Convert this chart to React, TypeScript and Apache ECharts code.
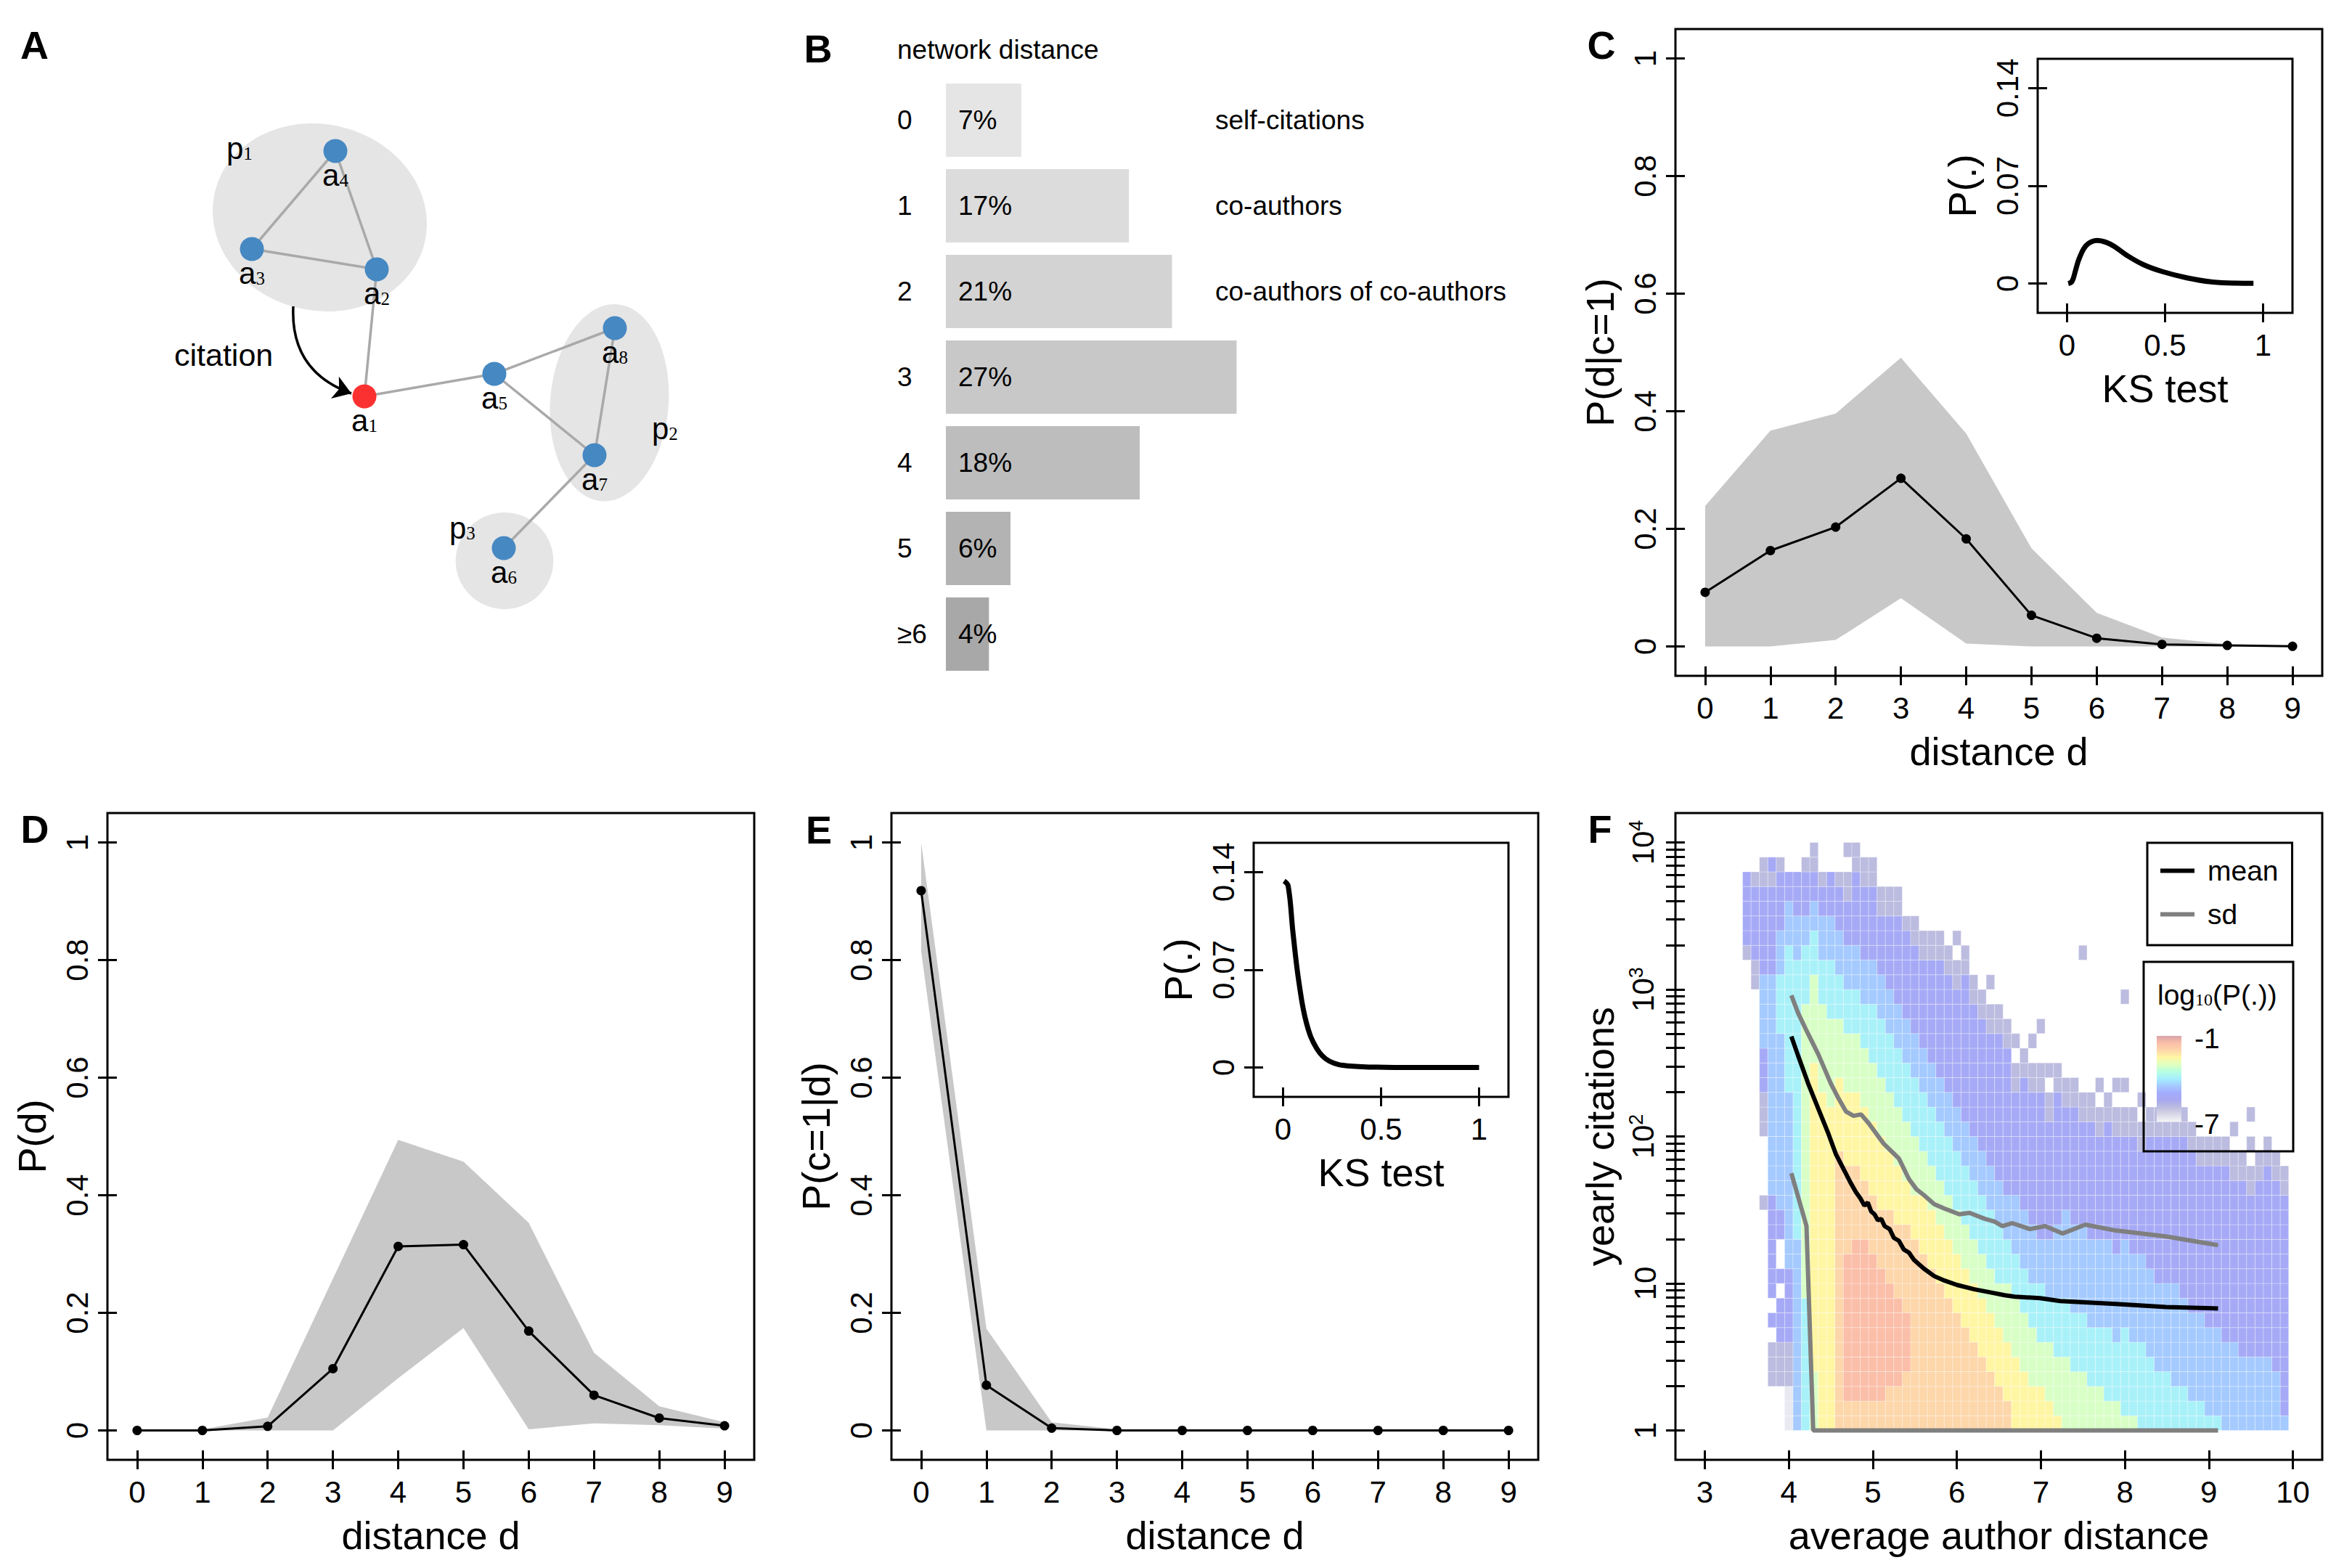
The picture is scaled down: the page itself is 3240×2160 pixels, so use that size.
import React, { useEffect, useRef } from "react";
import * as echarts from "echarts";

const FONT = '"Liberation Sans", Arial, Helvetica, sans-serif';
const SERIF = '"Liberation Serif", "Times New Roman", serif';

// ---------------- Panel A : co-authorship network ----------------
const nodeNames = ["a1", "a2", "a3", "a4", "a5", "a6", "a7", "a8"];
const nodeX = [502, 519, 347, 462, 681, 694, 819, 847];
const nodeY = [546, 371, 343, 208, 515, 755, 627, 452];
const nodeColors = ["#fb3131", "#4688c2", "#4688c2", "#4688c2", "#4688c2", "#4688c2", "#4688c2", "#4688c2"];
const linkSource = ["a4", "a4", "a3", "a2", "a1", "a5", "a5", "a8", "a7"];
const linkTarget = ["a3", "a2", "a2", "a1", "a5", "a8", "a7", "a7", "a6"];
const paperNames = ["1", "2", "3"];
const paperCX = [440.5, 839.4, 695];
const paperCY = [299.5, 554.8, 772.6];
const paperRX = [148.6, 81.5, 67.3];
const paperRY = [128.2, 136, 66.6];
const paperRot = [-0.244, -0.08, 0];
const paperLabelX = [312, 898, 619];
const paperLabelY = [204, 590, 727];
const citationFrom = [404, 422];
const citationTo = [484, 542];

// ---------------- Panel B : network distance of citations ----------------
const distCats = ["0", "1", "2", "3", "4", "5", "\u22656"];
const distPct = [7, 17, 21, 27, 18, 6, 4];
const distNotes = ["self-citations", "co-authors", "co-authors of co-authors", "", "", "", ""];
const distColors = ["#e5e5e5", "#dcdcdc", "#d3d3d3", "#c8c8c8", "#bdbdbd", "#b3b3b3", "#a8a8a8"];

// ---------------- Panels C, D, E ----------------
const dist = [0, 1, 2, 3, 4, 5, 6, 7, 8, 9];
const distTickLabels = ["0", "1", "2", "3", "4", "5", "6", "7", "8", "9"];
const probTicks = [0, 0.2, 0.4, 0.6, 0.8, 1];
const probTickLabels = ["0", "0.2", "0.4", "0.6", "0.8", "1"];

const cMean = [0.092, 0.163, 0.203, 0.286, 0.183, 0.053, 0.014, 0.0034, 0.0017, 0.0003];
const cUpper = [0.239, 0.367, 0.396, 0.491, 0.362, 0.167, 0.057, 0.015, 0.004, 0.0];
const cLower = [0, 0, 0.011, 0.082, 0.005, 0, 0, 0, 0, 0];

const dMean = [0, 0, 0.007, 0.105, 0.313, 0.316, 0.169, 0.06, 0.021, 0.008];
const dUpper = [0, 0.002, 0.022, 0.258, 0.494, 0.457, 0.353, 0.132, 0.041, 0.014];
const dLower = [0, 0, 0, 0, 0.089, 0.174, 0.002, 0.012, 0.009, 0.003];

const eMean = [0.918, 0.077, 0.004, 0, 0, 0, 0, 0, 0, 0];
const eUpper = [1.0, 0.173, 0.014, 0.002, 0, 0, 0, 0, 0, 0];
const eLower = [0.815, 0, 0, 0, 0, 0, 0, 0, 0, 0];

// insets (KS test distributions)
const ksTicks = [0, 0.5, 1];
const ksTickLabels = ["0", "0.5", "1"];
const pTicks = [0, 0.07, 0.14];
const pTickLabels = ["0", "0.07", "0.14"];
const ksCX = [0.006, 0.025, 0.043, 0.062, 0.099, 0.154, 0.2, 0.241, 0.302, 0.389, 0.488, 0.611, 0.735, 0.858, 0.951];
const ksCY = [0.0, 0.0015, 0.0093, 0.018, 0.0275, 0.0309, 0.0295, 0.0266, 0.0205, 0.0136, 0.0085, 0.0041, 0.0012, 0.0003, 0.0002];
const ksEX = [0.005, 0.026, 0.051, 0.082, 0.12, 0.172, 0.236, 0.339, 0.518, 0.75, 1.0];
const ksEY = [0.1336, 0.13, 0.096, 0.06, 0.0315, 0.0136, 0.0046, 0.0011, 0.0002, 0.0, 0.0];

// ---------------- Panel F ----------------
const fXTicks = [3, 4, 5, 6, 7, 8, 9, 10];
const fXTickLabels = ["3", "4", "5", "6", "7", "8", "9", "10"];
const fYMajor = [1, 10, 100, 1000, 10000];
const fYMajorLabels = ["1", "10", "10{s|2}", "10{s|3}", "10{s|4}"];
const fYMinor = [1, 2, 3, 4, 5, 6, 7, 8, 9, 10, 20, 30, 40, 50, 60, 70, 80, 90, 100, 200, 300, 400, 500, 600, 700, 800, 900,
  1000, 2000, 3000, 4000, 5000, 6000, 7000, 8000, 9000, 10000];

const meanX = [4.03, 4.11, 4.23, 4.35, 4.47, 4.56, 4.65, 4.74, 4.8, 4.85, 4.9, 4.94, 4.98, 5.02, 5.06, 5.1, 5.14, 5.2, 5.25, 5.31,
  5.37, 5.43, 5.49, 5.55, 5.61, 5.73, 5.85, 6.0, 6.21, 6.39, 6.57, 6.69, 6.99, 7.23, 7.89, 8.49, 9.11];
const meanLog10 = [2.68, 2.55, 2.36, 2.19, 2.02, 1.88, 1.78, 1.68, 1.62, 1.58, 1.53, 1.55, 1.49, 1.47, 1.43, 1.44, 1.39, 1.37, 1.31, 1.29,
  1.23, 1.21, 1.16, 1.13, 1.1, 1.05, 1.02, 0.99, 0.96, 0.94, 0.92, 0.91, 0.9, 0.88, 0.86, 0.84, 0.83];
const sdUpX = [4.03, 4.11, 4.21, 4.35, 4.5, 4.59, 4.68, 4.77, 4.86, 4.95, 5.04, 5.13, 5.22, 5.31, 5.43, 5.52, 5.61, 5.73, 5.85, 6.03,
  6.15, 6.33, 6.45, 6.54, 6.66, 6.87, 7.05, 7.26, 7.53, 7.89, 8.49, 9.11];
const sdUpLog10 = [2.96, 2.84, 2.72, 2.56, 2.36, 2.26, 2.17, 2.14, 2.15, 2.09, 2.02, 1.95, 1.9, 1.85, 1.71, 1.64, 1.6, 1.54, 1.51, 1.47,
  1.48, 1.44, 1.42, 1.39, 1.41, 1.37, 1.39, 1.34, 1.4, 1.36, 1.32, 1.26];
const sdLowX = [4.03, 4.21, 4.29, 9.11];
const sdLowLog10 = [1.75, 1.39, 0, 0];

// 2D histogram: one run-length string per x bin (bins of 0.1 from 3.45), rows of 0.1 decade from log10(y)=0 upwards.
// level digit -> log10(P)
const levelLogP: Record<string, number> = { "1": -6.8, "2": -6.0, "3": -5.3, "4": -4.5, "5": -3.9, "6": -3.1, "7": -2.5, "8": -2.0, "9": -1.5 };
const heatColumnsRLE = [
  "32*. 1*2 5*3 2*.",
  "30*. 2*2 5*3 1*2 2*.",
  "15*. 1*2 4*. 3*2 3*3 5*4 6*3 2*2 1*.",
  "3*. 3*2 1*. 1*3 1*. 7*3 15*4 6*3 1*2 1*3 1*.",
  "3*. 3*2 3*3 1*. 1*3 2*. 2*3 12*4 4*5 3*4 4*3 1*2 1*.",
  "3*1 3*2 5*3 12*4 10*5 3*4 2*3 2*.",
  "13*4 19*5 3*4 3*3 2*.",
  "9*5 20*6 4*5 2*4 3*3 1*2 1*.",
  "4*6 21*7 6*6 3*5 2*4 2*3 1*2 1*2",
  "23*7 6*6 3*5 3*4 2*3 1*2 2*.",
  "22*7 6*6 4*5 3*4 3*3 2*.",
  "19*8 5*7 4*6 3*5 3*4 3*3 1*2 2*.",
  "2*8 10*9 6*8 5*7 4*6 3*5 3*4 3*3 2*2 1*. 1*2",
  "2*8 11*9 5*8 5*7 4*6 3*5 3*4 5*3 2*2",
  "2*8 11*9 4*8 5*7 4*6 3*5 3*4 5*3 2*2 1*.",
  "2*8 10*9 4*8 5*7 4*6 4*5 3*4 5*3 2*2 1*.",
  "2*8 9*9 4*8 5*7 4*6 4*5 3*4 4*3 2*2 3*.",
  "3*8 7*9 5*8 4*7 4*6 4*5 3*4 5*3 2*2 3*.",
  "3*8 6*9 5*8 4*7 4*6 4*5 3*4 6*3 2*2 3*.",
  "4*8 4*9 6*8 3*7 4*6 4*5 3*4 6*3 1*2 5*.",
  "13*8 3*7 4*6 4*5 3*4 6*3 2*2 5*.",
  "12*8 4*7 3*6 4*5 3*4 6*3 2*2 6*.",
  "11*8 4*7 3*6 4*5 3*4 7*3 2*2 6*.",
  "10*8 4*7 3*6 4*5 3*4 8*3 2*2 6*.",
  "9*8 4*7 3*6 4*5 3*4 8*3 2*2 7*.",
  "8*8 4*7 3*6 4*5 3*4 8*3 2*2 1*. 1*2 6*.",
  "7*8 4*7 3*6 4*5 3*4 10*3 2*2 7*.",
  "6*8 4*7 3*6 4*5 3*4 9*3 2*2 9*.",
  "5*8 4*7 3*6 4*5 3*4 9*3 2*2 10*.",
  "4*8 4*7 3*6 4*5 3*4 9*3 2*2 1*. 1*2 9*.",
  "3*8 4*7 3*6 4*5 3*4 10*3 2*2 11*.",
  "2*8 4*7 4*6 3*5 3*4 10*3 2*2 12*.",
  "5*7 4*6 3*5 4*4 7*3 2*2 1*. 1*2 13*.",
  "4*7 4*6 3*5 4*4 9*3 2*2 14*.",
  "3*7 4*6 3*5 4*4 9*3 2*2 1*. 1*2 13*.",
  "3*7 3*6 4*5 3*4 10*3 2*2 2*. 1*2 12*.",
  "2*7 4*6 3*5 4*4 8*3 2*2 1*. 1*2 15*.",
  "1*7 4*6 4*5 5*4 9*3 2*2 15*.",
  "5*6 4*5 6*4 7*3 2*2 16*.",
  "4*6 4*5 6*4 8*3 2*2 16*.",
  "4*6 4*5 6*4 7*3 2*2 9*. 1*2 7*.",
  "3*6 4*5 6*4 8*3 2*2 17*.",
  "3*6 4*5 6*4 7*3 2*2 1*. 1*2 16*.",
  "2*6 5*5 6*4 8*3 2*2 17*.",
  "2*6 4*5 6*4 8*3 2*2 1*. 1*2 16*.",
  "1*6 6*5 6*4 7*3 2*2 1*. 1*2 5*. 1*2 10*.",
  "1*6 5*5 6*4 8*3 2*2 18*.",
  "6*5 6*4 7*3 2*2 1*. 1*2 17*.",
  "5*5 6*4 9*3 2*2 18*.",
  "4*5 6*4 10*3 2*2 18*.",
  "4*5 6*4 10*3 2*2 1*. 1*2 16*.",
  "3*5 7*4 10*3 2*2 18*.",
  "3*5 6*4 11*3 2*2 18*.",
  "2*5 6*4 11*3 2*2 19*.",
  "2*5 6*4 10*3 2*2 20*.",
  "1*5 6*4 11*3 2*2 20*.",
  "1*5 6*4 11*3 2*2 20*.",
  "6*4 12*3 2*2 20*.",
  "6*4 11*3 2*2 1*. 1*2 19*.",
  "5*4 12*3 2*2 21*.",
  "5*4 11*3 2*2 1*. 1*2 1*. 1*2 18*.",
  "5*4 12*3 2*2 21*.",
  "5*4 13*3 2*2 20*.",
  "4*4 13*3 2*2 21*.",
  "1*4 15*3 2*2 22*.",
];
const heatFirstX = 3.5;
const heatBinX = 0.1;
const heatBinY = 0.1;
// colour scale for log10(P(.)) from -7 to -1
const heatPalette = ["#f4f4f8", "#d8d8e8", "#bcbce0", "#a8a8f0", "#a4acff", "#a4caff", "#a6eeff", "#b6ffe0", "#e0ffc0", "#fff6a4", "#fdd6aa", "#fbbea8", "#d8a4a8"];

// ---------------- Panel letters ----------------
const panelLetters = ["A", "B", "C", "D", "E", "F"];
const letterX = [47.5, 1127, 2206, 48, 1128, 2204];
const letterY = [61.5, 66.6, 62, 1142, 1143, 1142];

function decodeRLE(s: string): string {
  let out = "";
  for (const tok of s.trim().split(/\s+/)) {
    const [n, c] = tok.split("*");
    out += c.repeat(Number(n));
  }
  return out;
}

function fmt(ticks: number[], labels: string[]) {
  return (v: number) => {
    const k = ticks.findIndex((t) => Math.abs(t - v) < 1e-9);
    return k >= 0 ? labels[k] : "";
  };
}

const TICK = { color: "#000", width: 3 };

function rAxisX(gridIndex: number, min: number, max: number, ticks: number[], labels: string[], name: string) {
  return {
    type: "value", gridIndex, min, max, position: "bottom", offset: -13,
    axisLine: { show: false, onZero: false },
    axisTick: { show: true, inside: false, length: 26, lineStyle: TICK, customValues: ticks },
    axisLabel: { show: true, customValues: ticks, formatter: fmt(ticks, labels), margin: 36, fontSize: 42, color: "#000", fontFamily: FONT },
    splitLine: { show: false },
    name, nameLocation: "middle", nameGap: 90, nameMoveOverlap: false,
    nameTextStyle: { fontSize: 54, color: "#000", fontFamily: FONT },
  };
}

function rAxisY(gridIndex: number, min: number, max: number, ticks: number[], labels: string[], name: string, tickValues?: number[], rich?: any) {
  return {
    type: "value", gridIndex, min, max, position: "left", offset: -13,
    axisLine: { show: false, onZero: false },
    axisTick: { show: true, inside: false, length: 26, lineStyle: TICK, customValues: tickValues || ticks },
    axisLabel: { show: true, customValues: ticks, formatter: fmt(ticks, labels), rotate: 90, margin: 34, fontSize: 42, color: "#000", fontFamily: FONT, rich },
    splitLine: { show: false },
    name, nameLocation: "middle", nameGap: 90, nameRotate: 90, nameMoveOverlap: false,
    nameTextStyle: { fontSize: 54, color: "#000", fontFamily: FONT },
  };
}

function frame(left: number, top: number, width: number, height: number) {
  return { left, top, width, height, show: true, borderColor: "#000", borderWidth: 3, backgroundColor: "transparent", containLabel: false, outerBoundsMode: "none" };
}

function bandSeries(xi: number, yi: number, upper: number[], lower: number[]) {
  return {
    type: "custom", coordinateSystem: "cartesian2d", xAxisIndex: xi, yAxisIndex: yi, z: 1, silent: true,
    data: [[dist[0], lower[0]]],
    renderItem: (params: any, api: any) => {
      const pts: number[][] = [];
      dist.forEach((d, i) => pts.push(api.coord([d, upper[i]])));
      for (let i = dist.length - 1; i >= 0; i--) pts.push(api.coord([dist[i], lower[i]]));
      return { type: "polygon", shape: { points: pts }, style: { fill: "#c8c8c8" } };
    },
  };
}

function meanSeries(xi: number, yi: number, mean: number[]) {
  return {
    type: "line", xAxisIndex: xi, yAxisIndex: yi, z: 3, silent: true,
    data: dist.map((d, i) => [d, mean[i]]), symbol: "circle", symbolSize: 13, showSymbol: true,
    itemStyle: { color: "#000" }, lineStyle: { color: "#000", width: 3 },
  };
}

function insetSeries(xi: number, yi: number, xs: number[], ys: number[]) {
  return {
    type: "line", xAxisIndex: xi, yAxisIndex: yi, z: 3, silent: true, smooth: 0.4,
    data: xs.map((x, i) => [x, ys[i]]), symbol: "none", lineStyle: { color: "#000", width: 7 },
  };
}

function buildOption() {
  const heatData: number[][] = [];
  heatColumnsRLE.forEach((s, i) => {
    const col = decodeRLE(s);
    for (let j = 0; j < col.length; j++) {
      const c = col[j];
      if (c !== "." && levelLogP[c] !== undefined) {
        heatData.push([heatFirstX + heatBinX * i, heatBinY * j, levelLogP[c]]);
      }
    }
  });

  const series: any[] = [];
  // Panel A
  series.push({
    type: "custom", coordinateSystem: "cartesian2d", xAxisIndex: 0, yAxisIndex: 0, z: 1, silent: true,
    data: paperCX.map((cx, i) => [cx, paperCY[i], paperRX[i], paperRY[i], paperRot[i]]),
    renderItem: (params: any, api: any) => {
      const c = api.coord([api.value(0), api.value(1)]);
      const s = api.size([api.value(2), api.value(3)]);
      return { type: "ellipse", x: c[0], y: c[1], rotation: api.value(4), shape: { cx: 0, cy: 0, rx: s[0], ry: s[1] }, style: { fill: "#e5e5e5" } };
    },
  });
  series.push({
    type: "graph", coordinateSystem: "cartesian2d", xAxisIndex: 0, yAxisIndex: 0, layout: "none", z: 2, silent: true,
    symbol: "circle", symbolSize: 33,
    data: nodeNames.map((n, i) => ({ name: n, value: [nodeX[i], nodeY[i]], itemStyle: { color: nodeColors[i] } })),
    links: linkSource.map((s, i) => ({ source: s, target: linkTarget[i] })),
    lineStyle: { color: "#a9a9a9", width: 3.5, opacity: 1, curveness: 0 },
    label: {
      show: true, position: "bottom", distance: -4,
      formatter: (p: any) => `{a|a}{s|${p.name.slice(1)}}`,
      rich: {
        a: { fontSize: 42, fontFamily: FONT, color: "#000" },
        s: { fontSize: 25, fontFamily: SERIF, color: "#000", padding: [14, 0, 0, 0] },
      },
    },
  });
  series.push({
    type: "lines", coordinateSystem: "cartesian2d", xAxisIndex: 0, yAxisIndex: 0, z: 3, silent: true,
    symbol: ["none", "arrow"], symbolSize: 24,
    lineStyle: { color: "#000", width: 3.5, opacity: 1, curveness: -0.37 },
    data: [{ coords: [citationFrom, citationTo] }],
  });
  // Panel B
  series.push({
    type: "bar", xAxisIndex: 1, yAxisIndex: 1, barWidth: 101, silent: true,
    data: distPct.map((v, i) => ({ value: v, itemStyle: { color: distColors[i] } })),
    label: { show: true, position: "insideLeft", distance: 17, formatter: "{c}%", fontSize: 37, color: "#000", fontFamily: FONT },
  });
  // Panel C
  series.push(bandSeries(2, 3, cUpper, cLower));
  series.push(meanSeries(2, 3, cMean));
  series.push(insetSeries(3, 4, ksCX, ksCY));
  // Panel D
  series.push(bandSeries(4, 5, dUpper, dLower));
  series.push(meanSeries(4, 5, dMean));
  // Panel E
  series.push(bandSeries(5, 6, eUpper, eLower));
  series.push(meanSeries(5, 6, eMean));
  series.push(insetSeries(6, 7, ksEX, ksEY));
  // Panel F
  const heatIndex = series.length;
  series.push({
    type: "custom", coordinateSystem: "cartesian2d", xAxisIndex: 7, yAxisIndex: 8, z: 1, silent: true,
    encode: { x: 0, y: 1 },
    data: heatData,
    renderItem: (params: any, api: any) => {
      const x = api.value(0);
      const y = api.value(1);
      const tl = api.coord([x - heatBinX / 2, y + heatBinY]);
      const br = api.coord([x + heatBinX / 2, y]);
      return {
        type: "rect",
        shape: { x: tl[0], y: tl[1], width: br[0] - tl[0], height: br[1] - tl[1] },
        style: { fill: api.visual("color"), stroke: "rgba(255,255,255,0.3)", lineWidth: 1 },
      };
    },
  });
  series.push({
    name: "mean", type: "line", xAxisIndex: 7, yAxisIndex: 8, z: 5, silent: true,
    data: meanX.map((x, i) => [x, meanLog10[i]]), symbol: "none",
    itemStyle: { color: "#000" }, lineStyle: { color: "#000", width: 6 },
  });
  series.push({
    name: "sd", type: "line", xAxisIndex: 7, yAxisIndex: 8, z: 4, silent: true,
    data: sdUpX.map((x, i) => [x, sdUpLog10[i]]), symbol: "none",
    itemStyle: { color: "#7f7f7f" }, lineStyle: { color: "#7f7f7f", width: 6 },
  });
  series.push({
    name: "sd", type: "line", xAxisIndex: 7, yAxisIndex: 8, z: 4, silent: true,
    data: sdLowX.map((x, i) => [x, sdLowLog10[i]]), symbol: "none",
    itemStyle: { color: "#7f7f7f" }, lineStyle: { color: "#7f7f7f", width: 6 },
  });

  const grid = [
    { left: 0, top: 0, width: 1080, height: 1080, show: false, containLabel: false, outerBoundsMode: "none" },
    { left: 1303, top: 106.4, width: 445, height: 826, show: false, containLabel: false, outerBoundsMode: "none" },
    frame(2308, 40, 891, 891),
    frame(2807, 81, 351, 350),
    frame(148, 1120, 891, 891),
    frame(1228, 1120, 891, 891),
    frame(1727, 1161, 351, 350),
    frame(2308, 1120, 891, 891),
  ];

  const xAxis = [
    { type: "value", gridIndex: 0, min: 0, max: 1080, show: false },
    { type: "value", gridIndex: 1, min: 0, max: 30, show: false },
    rAxisX(2, -0.455, 9.455, dist, distTickLabels, "distance d"),
    rAxisX(3, -0.15, 1.15, ksTicks, ksTickLabels, "KS test"),
    rAxisX(4, -0.455, 9.455, dist, distTickLabels, "distance d"),
    rAxisX(5, -0.455, 9.455, dist, distTickLabels, "distance d"),
    rAxisX(6, -0.15, 1.15, ksTicks, ksTickLabels, "KS test"),
    rAxisX(7, 2.65, 10.35, fXTicks, fXTickLabels, "average author distance"),
  ];

  const supRich = { s: { fontSize: 27, fontFamily: FONT, color: "#000", padding: [0, 0, 20, 0] } };
  const yAxis = [
    { type: "value", gridIndex: 0, min: 0, max: 1080, inverse: true, show: false },
    {
      type: "category", gridIndex: 1, data: distCats, inverse: true, position: "left",
      axisLine: { show: false }, axisTick: { show: false }, splitLine: { show: false },
      axisLabel: { align: "left", margin: 67, fontSize: 37, color: "#000", fontFamily: FONT },
    },
    {
      type: "category", gridIndex: 1, data: distNotes, inverse: true, position: "right", offset: -74,
      axisLine: { show: false }, axisTick: { show: false }, splitLine: { show: false },
      axisLabel: { align: "left", margin: 0, fontSize: 37, color: "#000", fontFamily: FONT },
    },
    rAxisY(2, -0.05, 1.05, probTicks, probTickLabels, "P(d|c=1)"),
    rAxisY(3, -0.021, 0.161, pTicks, pTickLabels, "P(.)"),
    rAxisY(4, -0.05, 1.05, probTicks, probTickLabels, "P(d)"),
    rAxisY(5, -0.05, 1.05, probTicks, probTickLabels, "P(c=1|d)"),
    rAxisY(6, -0.021, 0.161, pTicks, pTickLabels, "P(.)"),
    rAxisY(7, -0.2, 4.2, fYMajor.map((v) => Math.log10(v)), fYMajorLabels, "yearly citations", fYMinor.map((v) => Math.log10(v)), supRich),
  ];

  const colorStops = heatPalette.map((c, k) => ({ offset: 1 - k / (heatPalette.length - 1), color: c }));
  colorStops.reverse();

  const graphics: any[] = [];
  panelLetters.forEach((t, i) => {
    graphics.push({
      type: "text", x: letterX[i], y: letterY[i], silent: true, z: 100,
      style: { text: t, fontSize: 54, fontWeight: "bold", fontFamily: FONT, fill: "#000", textAlign: "center", textVerticalAlign: "middle", align: "center", verticalAlign: "middle" },
    });
  });
  graphics.push({
    type: "text", x: 1236, y: 68, silent: true, z: 100,
    style: { text: "network distance", fontSize: 37, fontFamily: FONT, fill: "#000", textAlign: "left", textVerticalAlign: "middle", align: "left", verticalAlign: "middle" },
  });
  graphics.push({
    type: "text", x: 240, y: 489, silent: true, z: 100,
    style: { text: "citation", fontSize: 43, fontFamily: FONT, fill: "#000", textAlign: "left", textVerticalAlign: "middle", align: "left", verticalAlign: "middle" },
  });
  paperNames.forEach((n, i) => {
    graphics.push({
      type: "text", x: paperLabelX[i], y: paperLabelY[i], silent: true, z: 100,
      style: {
        text: `{p|p}{s|${n}}`, textAlign: "left", textVerticalAlign: "middle", align: "left", verticalAlign: "middle",
        rich: {
          p: { fontSize: 42, fontFamily: FONT, fill: "#000", color: "#000" },
          s: { fontSize: 25, fontFamily: SERIF, fill: "#000", color: "#000", padding: [14, 0, 0, 0] },
        },
      },
    });
  });
  // colour key of panel F
  graphics.push({
    type: "rect", silent: true, z: 100, shape: { x: 2953, y: 1325, width: 206, height: 261 },
    style: { fill: "none", stroke: "#000", lineWidth: 3 },
  });
  graphics.push({
    type: "rect", silent: true, z: 100, shape: { x: 2971, y: 1427, width: 34, height: 118 },
    style: { fill: new echarts.graphic.LinearGradient(0, 0, 0, 1, colorStops) },
  });
  graphics.push({
    type: "text", x: 2972, y: 1370, silent: true, z: 100,
    style: {
      text: "log{s|10}(P(.))", textAlign: "left", textVerticalAlign: "middle", align: "left", verticalAlign: "middle",
      fontSize: 39, fontFamily: FONT, fill: "#000",
      rich: {
        s: { fontSize: 24, fontFamily: SERIF, fill: "#000", color: "#000", padding: [14, 0, 0, 0] },
      },
    },
  });
  graphics.push({
    type: "text", x: 3023, y: 1430, silent: true, z: 100,
    style: { text: "-1", fontSize: 39, fontFamily: FONT, fill: "#000", textAlign: "left", textVerticalAlign: "middle", align: "left", verticalAlign: "middle" },
  });
  graphics.push({
    type: "text", x: 3023, y: 1548, silent: true, z: 100,
    style: { text: "-7", fontSize: 39, fontFamily: FONT, fill: "#000", textAlign: "left", textVerticalAlign: "middle", align: "left", verticalAlign: "middle" },
  });

  return {
    animation: false,
    backgroundColor: "#ffffff",
    textStyle: { fontFamily: FONT, color: "#000" },
    grid,
    xAxis,
    yAxis,
    series,
    visualMap: [{
      type: "continuous", show: false, seriesIndex: heatIndex, dimension: 2, min: -7, max: -1,
      inRange: { color: heatPalette },
    }],
    legend: {
      show: true, data: ["mean", "sd"], orient: "vertical", left: 2958, top: 1161,
      padding: [19, 19, 23, 18], itemGap: 21, itemWidth: 47, itemHeight: 6, icon: "rect",
      borderColor: "#000", borderWidth: 3, selectedMode: false,
      textStyle: { fontSize: 39, fontFamily: FONT, color: "#000", padding: [0, 0, 0, 13] },
    },
    graphic: { elements: graphics },
  };
}

export default function App() {
  const ref = useRef<HTMLDivElement>(null);
  useEffect(() => {
    if (!ref.current) return;
    const chart = echarts.init(ref.current, null, { renderer: "svg", width: 3240, height: 2160 });
    chart.setOption(buildOption() as any);
    return () => chart.dispose();
  }, []);
  return <div ref={ref} style={{ position: "absolute", left: 0, top: 0, width: 3240, height: 2160, background: "#fff" }} />;
}
